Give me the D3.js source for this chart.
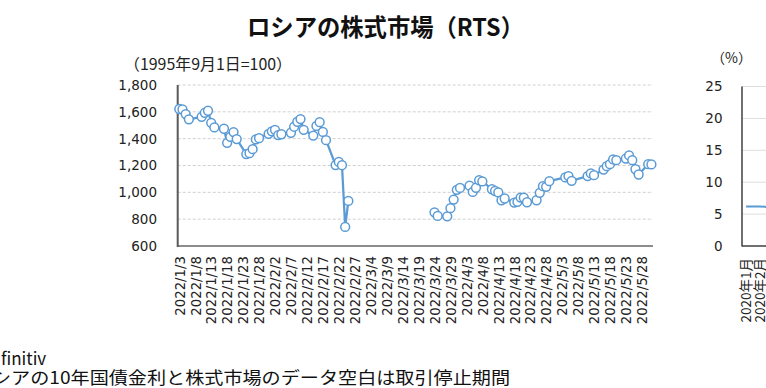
<html>
<head>
<meta charset="utf-8">
<title>RTS</title>
<style>
  body { margin: 0; background: #fff; }
  svg { display: block; font-family: "DejaVu Sans", sans-serif; }
  .jp { font-family: "Noto Sans CJK JP", sans-serif; }
</style>
</head>
<body>
<script src="https://d3js.org/d3.v7.min.js"></script>
<script>
var width = 766, height = 388;

// RTS index, trading days (null = trading halt)
var rtsDates = [
  "2022-01-03","2022-01-04","2022-01-05","2022-01-06","2022-01-10","2022-01-11","2022-01-12","2022-01-13","2022-01-14",
  "2022-01-17","2022-01-18","2022-01-19","2022-01-20","2022-01-21","2022-01-24","2022-01-25","2022-01-26","2022-01-27","2022-01-28",
  "2022-01-31","2022-02-01","2022-02-02","2022-02-03","2022-02-04","2022-02-07","2022-02-08","2022-02-09","2022-02-10","2022-02-11",
  "2022-02-14","2022-02-15","2022-02-16","2022-02-17","2022-02-18","2022-02-21","2022-02-22","2022-02-23","2022-02-24","2022-02-25",
  "2022-03-01",
  "2022-03-24","2022-03-25","2022-03-28","2022-03-29","2022-03-30","2022-03-31","2022-04-01",
  "2022-04-04","2022-04-05","2022-04-06","2022-04-07","2022-04-08","2022-04-11","2022-04-12","2022-04-13","2022-04-14","2022-04-15",
  "2022-04-18","2022-04-19","2022-04-20","2022-04-21","2022-04-22","2022-04-25","2022-04-26","2022-04-27","2022-04-28","2022-04-29",
  "2022-05-04","2022-05-05","2022-05-06","2022-05-11","2022-05-12","2022-05-13",
  "2022-05-16","2022-05-17","2022-05-18","2022-05-19","2022-05-20","2022-05-23","2022-05-24","2022-05-25","2022-05-26","2022-05-27",
  "2022-05-30","2022-05-31"
];
var rtsValues = [
  1621,1618,1583,1544,1563,1593,1608,1518,1484,
  1474,1369,1414,1449,1397,1285,1292,1322,1394,1404,
  1436,1455,1466,1427,1433,1444,1489,1526,1546,1466,
  1423,1495,1523,1450,1389,1203,1227,1202,742,936,
  null,
  851,824,821,882,946,1019,1033,
  1050,1003,1034,1090,1081,1023,1010,999,941,954,
  924,929,961,960,926,941,996,1046,1041,1083,
  1111,1121,1086,1121,1141,1128,
  1170,1195,1210,1245,1240,1252,1275,1240,1172,1133,
  1210,1208
];
var yTicks = [600, 800, 1000, 1200, 1400, 1600, 1800];

// 10年国債金利 (right panel, only its start is visible)
var bondDates = ["2020-01-01","2020-01-15","2020-02-01","2020-02-12","2020-02-20"];
var bondValues = [6.2, 6.2, 6.2, 6.15, 6.0];
var bondTicks = [0, 5, 10, 15, 20, 25];
var bondMonths = ["2020-01-01", "2020-02-01"];

var blue = "#5b9bd5";
var parse = d3.utcParse("%Y-%m-%d");

var svg = d3.select("body").append("svg")
  .attr("width", width)
  .attr("height", height);

// ---- left chart ----
var x = d3.scaleUtc()
  .domain([Date.UTC(2022, 0, 2, 12), Date.UTC(2022, 4, 31, 12)])
  .range([177.7, 653]);
var y = d3.scaleLinear().domain([600, 1800]).range([246, 85]);

svg.append("g").selectAll("line")
  .data(yTicks.slice(1))
  .enter().append("line")
  .attr("x1", 177.7).attr("x2", 653)
  .attr("y1", function(d){ return y(d); })
  .attr("y2", function(d){ return y(d); })
  .attr("stroke", "#d0d0d0")
  .attr("stroke-dasharray", "3,2");

svg.append("g").selectAll("text")
  .data(yTicks)
  .enter().append("text")
  .attr("x", 157)
  .attr("y", function(d){ return y(d); })
  .attr("dy", "0.36em")
  .attr("text-anchor", "end")
  .attr("font-size", 13.5)
  .attr("fill", "#222")
  .text(d3.format(","));

var xTicks = d3.utcDay.range(new Date(Date.UTC(2022, 0, 3)), new Date(Date.UTC(2022, 4, 31)), 5);
var fmt = d3.utcFormat("%Y/%-m/%-d");
svg.append("g").selectAll("text")
  .data(xTicks)
  .enter().append("text")
  .attr("transform", function(d){ return "translate(" + (x(d) + 0.5) + ",256) rotate(-90)"; })
  .attr("dy", "0.36em")
  .attr("text-anchor", "end")
  .attr("font-size", 13.3)
  .attr("fill", "#222")
  .text(fmt);

svg.append("line")
  .attr("x1", 177.7).attr("x2", 653).attr("y1", 246).attr("y2", 246)
  .attr("stroke", "#8c8c8c").attr("stroke-width", 2);
svg.append("line")
  .attr("x1", 177.7).attr("x2", 177.7).attr("y1", 85).attr("y2", 247)
  .attr("stroke", "#595959").attr("stroke-width", 2);

var rts = rtsDates.map(function(d, i){ return {date: parse(d), value: rtsValues[i]}; });
var line = d3.line()
  .defined(function(d){ return d.value != null; })
  .x(function(d){ return x(d.date); })
  .y(function(d){ return y(d.value); });

svg.append("path")
  .datum(rts)
  .attr("d", line)
  .attr("fill", "none")
  .attr("stroke", blue)
  .attr("stroke-width", 2.25)
  .attr("stroke-linejoin", "round");

svg.append("g").selectAll("circle")
  .data(rts.filter(function(d){ return d.value != null; }))
  .enter().append("circle")
  .attr("cx", function(d){ return x(d.date); })
  .attr("cy", function(d){ return y(d.value); })
  .attr("r", 4.4)
  .attr("fill", "#fff")
  .attr("stroke", blue)
  .attr("stroke-width", 1.5);

svg.append("text")
  .attr("class", "jp")
  .attr("x", 247).attr("y", 36)
  .attr("font-size", 24).attr("font-weight", "bold")
  .attr("textLength", 277).attr("lengthAdjust", "spacingAndGlyphs")
  .attr("fill", "#111")
  .text("ロシアの株式市場（RTS）");

svg.append("text")
  .attr("class", "jp")
  .attr("x", 124).attr("y", 69.5)
  .attr("font-size", 15.5)
  .attr("textLength", 168).attr("lengthAdjust", "spacingAndGlyphs")
  .attr("fill", "#222")
  .text("（1995年9月1日=100）");

// ---- right chart (cut at the edge) ----
var x2 = d3.scaleUtc()
  .domain([Date.UTC(2019, 11, 23), Date.UTC(2020, 1, 23)])
  .range([742, 770]);
var y2 = d3.scaleLinear().domain([0, 25]).range([246, 86.5]);

svg.append("g").selectAll("line")
  .data(bondTicks.slice(1))
  .enter().append("line")
  .attr("x1", 742).attr("x2", width)
  .attr("y1", function(d){ return y2(d); })
  .attr("y2", function(d){ return y2(d); })
  .attr("stroke", "#dedede");

svg.append("g").selectAll("text")
  .data(bondTicks)
  .enter().append("text")
  .attr("x", 722.5)
  .attr("y", function(d){ return y2(d); })
  .attr("dy", "0.36em")
  .attr("text-anchor", "end")
  .attr("font-size", 13.5)
  .attr("fill", "#222")
  .text(function(d){ return d; });

svg.append("text")
  .attr("class", "jp")
  .attr("x", 711).attr("y", 63)
  .attr("font-size", 14)
  .attr("fill", "#222")
  .text("（%）");

svg.append("g").selectAll("text")
  .data(bondMonths)
  .enter().append("text")
  .attr("class", "jp")
  .attr("transform", function(d){ return "translate(" + x2(parse(d)) + ",258) rotate(-90)"; })
  .attr("dy", "0.36em")
  .attr("text-anchor", "end")
  .attr("font-size", 13.5)
  .attr("fill", "#222")
  .text(function(d){ var t = parse(d); return t.getUTCFullYear() + "年" + (t.getUTCMonth() + 1) + "月"; });

svg.append("line")
  .attr("x1", 742).attr("x2", width).attr("y1", 246).attr("y2", 246)
  .attr("stroke", "#404040").attr("stroke-width", 1.5);
svg.append("line")
  .attr("x1", 742).attr("x2", 742).attr("y1", 86.5).attr("y2", 246.5)
  .attr("stroke", "#404040").attr("stroke-width", 1.5);

var bond = bondDates.map(function(d, i){ return {date: parse(d), value: bondValues[i]}; });
svg.append("path")
  .datum(bond)
  .attr("d", d3.line().x(function(d){ return x2(d.date); }).y(function(d){ return y2(d.value); }))
  .attr("fill", "none")
  .attr("stroke", blue)
  .attr("stroke-width", 2);

// ---- notes ----
svg.append("text")
  .attr("class", "jp")
  .attr("x", 1).attr("y", 365)
  .attr("font-size", 17)
  .attr("fill", "#111")
  .text("finitiv");
svg.append("text")
  .attr("class", "jp")
  .attr("x", -8).attr("y", 383.5)
  .attr("font-size", 17)
  .attr("textLength", 518).attr("lengthAdjust", "spacingAndGlyphs")
  .attr("fill", "#111")
  .text("シアの10年国債金利と株式市場のデータ空白は取引停止期間");
</script>
</body>
</html>
